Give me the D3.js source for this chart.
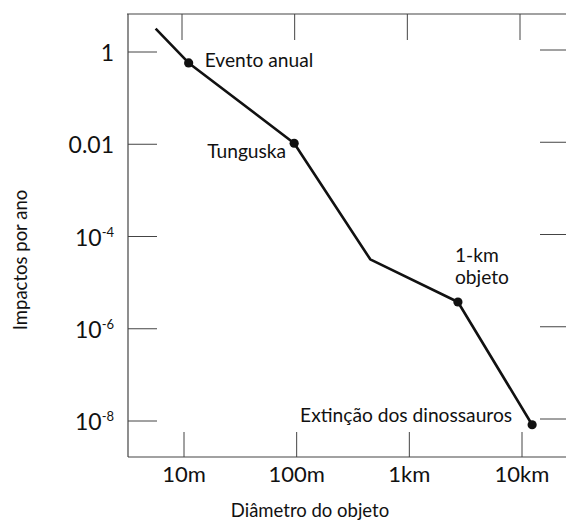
<!DOCTYPE html>
<html>
<head>
<meta charset="utf-8">
<script src="https://cdn.jsdelivr.net/npm/d3@7/dist/d3.min.js"></script>
<style>
  html, body { margin: 0; padding: 0; background: #fff; }
  svg { display: block; font-family: Lato, "Open Sans", sans-serif; }
</style>
</head>
<body>
<svg id="chart" width="566" height="521"></svg>
<script>
// Impact frequency versus object diameter (log–log)
const diameters = [5.6, 11, 95, 450, 2700, 12300];          // metres
const impactsPerYear = [3.2, 0.58, 0.0105, 3.2e-5, 3.8e-6, 8.3e-9];
const markedPoints = [1, 2, 4, 5];                            // indices drawn with a dot

const xTickValues = [10, 100, 1000, 10000];
const xTickLabels = ["10m", "100m", "1km", "10km"];
const yTickValues = [1, 0.01, 1e-4, 1e-6, 1e-8];
const yTickBase = ["1", "0.01", "10", "10", "10"];
const yTickExp = ["", "", "-4", "-6", "-8"];

const annotations = [
  { i: 1, lines: ["Evento anual"], dx: 16, dy: 4, anchor: "start" },
  { i: 2, lines: ["Tunguska"], dx: -8, dy: 15, anchor: "end" },
  { i: 4, lines: ["1-km", "objeto"], dx: -3, dy: -40, anchor: "start" },
  { i: 5, lines: ["Extinção dos dinossauros"], dx: -20, dy: -3, anchor: "end" }
];

const svg = d3.select("#chart");
const frame = { left: 128, top: 14, right: 566, bottom: 457 };

const x = d3.scaleLog().domain([10, 10000]).range([184, 522]);
const y = d3.scaleLog().domain([1, 1e-8]).range([52, 421]);

const axisColor = "#444";
const ink = "#111";
const labelSize = 18.5;
const noteSize = 19.2;

// Frame (open on the right)
const g = svg.append("g");
g.append("line").attr("x1", frame.left - 1).attr("x2", frame.right)
  .attr("y1", frame.top).attr("y2", frame.top)
  .attr("stroke", axisColor).attr("stroke-width", 1.2);
g.append("line").attr("x1", frame.left).attr("x2", frame.right)
  .attr("y1", frame.bottom).attr("y2", frame.bottom)
  .attr("stroke", axisColor).attr("stroke-width", 1.2);
g.append("line").attr("x1", frame.left).attr("x2", frame.left)
  .attr("y1", frame.top).attr("y2", frame.bottom)
  .attr("stroke", axisColor).attr("stroke-width", 1.2);

// Inward ticks on bottom and top edges
xTickValues.forEach(v => {
  g.append("line").attr("x1", x(v)).attr("x2", x(v))
    .attr("y1", frame.bottom).attr("y2", frame.bottom - 25)
    .attr("stroke", axisColor).attr("stroke-width", 1);
  g.append("line").attr("x1", x(v) - 2).attr("x2", x(v) - 2)
    .attr("y1", frame.top).attr("y2", frame.top + 26)
    .attr("stroke", axisColor).attr("stroke-width", 1);
});

// Inward ticks on left edge and right side
yTickValues.forEach(v => {
  g.append("line").attr("x1", frame.left).attr("x2", frame.left + 29)
    .attr("y1", y(v)).attr("y2", y(v))
    .attr("stroke", axisColor).attr("stroke-width", 1);
  g.append("line").attr("x1", 540).attr("x2", frame.right)
    .attr("y1", y(v) - 2).attr("y2", y(v) - 2)
    .attr("stroke", axisColor).attr("stroke-width", 1);
});

// X tick labels
xTickValues.forEach((v, i) => {
  g.append("text").attr("x", x(v)).attr("y", 482)
    .attr("text-anchor", "middle").attr("font-size", 22).attr("fill", ink)
    .text(xTickLabels[i]);
});

// Y tick labels with superscript exponents
yTickValues.forEach((v, i) => {
  const t = g.append("text").attr("x", 114).attr("y", y(v) + 9)
    .attr("text-anchor", "end").attr("font-size", 23).attr("fill", ink);
  t.append("tspan").text(yTickBase[i]);
  if (yTickExp[i]) {
    t.append("tspan").attr("font-size", 13).attr("dy", -9).text(yTickExp[i]);
  }
});

// Axis titles
svg.append("text").attr("x", 310).attr("y", 517)
  .attr("text-anchor", "middle").attr("font-size", labelSize).attr("fill", ink)
  .text("Diâmetro do objeto");
svg.append("text")
  .attr("transform", "translate(27,260) rotate(-90)")
  .attr("text-anchor", "middle").attr("font-size", labelSize).attr("fill", ink)
  .text("Impactos por ano");

// Curve
const pts = diameters.map((d, i) => [x(d), y(impactsPerYear[i])]);
svg.append("path").attr("d", d3.line()(pts))
  .attr("fill", "none").attr("stroke", ink).attr("stroke-width", 2.6)
  .attr("stroke-linejoin", "round");

svg.selectAll("circle.pt").data(markedPoints).join("circle")
  .attr("class", "pt")
  .attr("cx", i => pts[i][0]).attr("cy", i => pts[i][1])
  .attr("r", 4.6).attr("fill", ink);

// Annotations
annotations.forEach(a => {
  const t = svg.append("text")
    .attr("x", pts[a.i][0] + a.dx).attr("y", pts[a.i][1] + a.dy)
    .attr("text-anchor", a.anchor).attr("font-size", noteSize).attr("fill", ink);
  a.lines.forEach((l, k) => {
    t.append("tspan").attr("x", pts[a.i][0] + a.dx).attr("dy", k === 0 ? 0 : 22).text(l);
  });
});
</script>
</body>
</html>
